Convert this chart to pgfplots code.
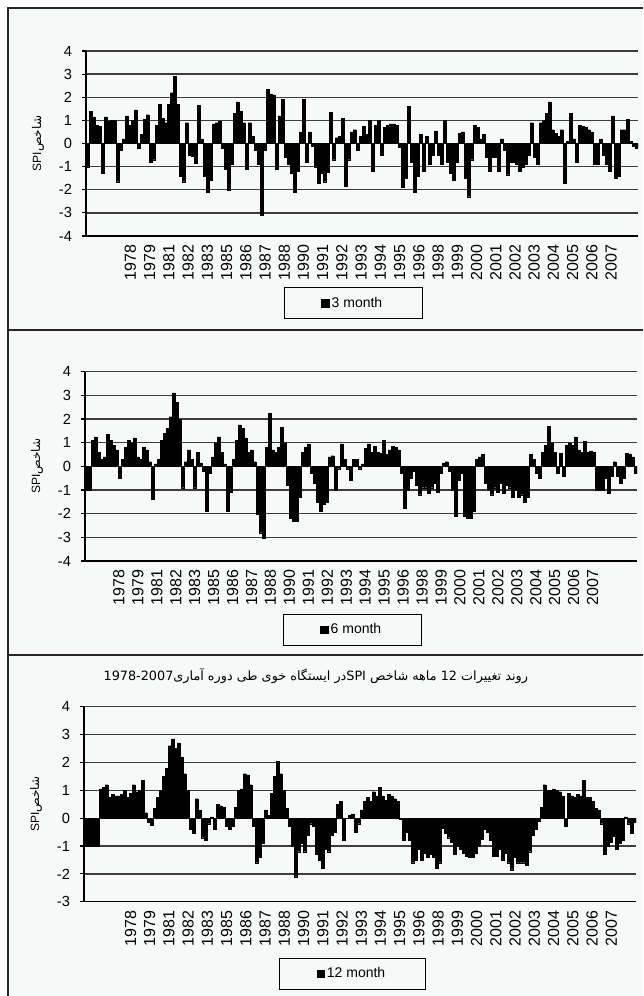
\documentclass[border=0pt]{standalone}
\usepackage{pgfplots}
\usepackage{pgfplotstable}
\pgfplotsset{compat=1.18}
\usepackage{fontspec}
\setmainfont{Liberation Sans}
\newfontfamily\arabicfont[Script=Arabic]{DejaVu Sans}
\TeXXeTstate=1
\definecolor{bg}{RGB}{247,249,249}
\definecolor{gridc}{RGB}{60,60,60}

\pgfplotstableread{
y
-1.0
1.4
1.15
0.8
0.75
-1.3
1.15
0.95
1.0
1.0
-1.65
-0.3
0.2
1.2
0.8
1.0
1.45
-0.2
0.4
1.05
1.25
-0.8
-0.7
0.8
1.7
1.1
0.9
1.7
2.2
2.9
1.7
-1.4
-1.65
0.9
-0.5
-0.55
-0.85
1.65
0.2
-1.4
-2.1
-1.6
0.85
0.9
0.95
-0.2
-1.1
-2.0
-0.9
1.3
1.8
1.4
0.9
-1.1
0.9
0.3
-0.3
-0.9
-3.1
-0.3
2.35
2.15
2.1
-1.1
1.2
1.9
-0.6
-0.9
-1.3
-2.1
-1.2
0.5
1.9
-0.8
0.5
-0.1
-1.0
-1.7
-1.3
-1.65
-1.25
1.35
-0.7
0.25
0.3
1.1
-1.85
-0.7
0.5
0.6
-0.3
0.3
0.75
0.4
1.0
-1.2
0.8
1.0
-0.5
0.7
0.8
0.85
0.85
0.8
-0.15
-1.9
-1.5
1.6
-0.8
-2.1
-1.4
0.4
-1.2
0.3
-0.9
-0.5
0.55
-0.5
-0.9
1.0
-0.8
-1.3
-1.6
-0.8
0.45
0.5
-1.5
-2.3
-0.7
0.8
0.7
0.2
0.4
-0.6
-1.2
-0.6
-0.6
-1.2
0.2
-0.3
-1.35
-0.8
-0.8
-0.9
-1.2
-1.0
-0.9
-0.5
0.9
-0.6
-0.9
0.9
1.0
1.3
1.8
0.6
0.45
0.3
0.6
-1.7
0.1
1.3
0.2
-0.8
0.8
0.75
0.7
0.6
0.5
-0.9
-0.9
0.2
-0.5
-0.9
-1.2
1.2
-1.5
-1.4
0.6
0.6
1.05
0.1
-0.1
-0.2
}\spithree

\pgfplotstableread{
y
-1.0
-1.0
1.1
1.25
0.6
0.3
0.4
1.35
1.1
0.9
0.7
-0.5
0.3
0.8
1.1
1.0
1.2
0.4
0.3
0.8
0.7
0.2
-1.4
0.1
0.3
1.1
1.4
1.6
2.1
3.1
2.7
2.0
-0.9
0.2
0.7
0.3
-0.9
0.6
0.15
-0.2
-1.9
-0.3
0.4
1.0
1.25
0.6
0.1
-1.9
-1.1
0.3
1.1
1.75
1.6
1.2
0.6
0.7
0.2
-2.0
-2.8
-3.05
0.8
2.25
0.7
0.6
0.8
1.65
1.0
-0.8
-2.2
-2.3
-2.3
-1.3
0.6
0.8
0.95
-0.3
-0.7
-1.5
-1.9
-1.6
-1.5
0.4
0.45
-1.0
-0.1
0.95
0.3
-0.1
-0.6
0.3
0.3
-0.1
0.1
0.75
0.95
0.6
0.85
0.6
0.55
1.1
0.5
0.7
0.85
0.8
0.7
-0.3
-1.75
-1.0
-0.5
-0.2
-0.8
-1.2
-0.9
-0.9
-1.15
-0.9
-0.7
-1.1
-0.3
0.15
0.2
-0.2
-1.0
-2.1
-0.6
-0.3
-2.1
-2.2
-2.2
-1.9
0.3
0.4
0.5
-0.7
-1.0
-1.2
-0.9
-1.1
-0.7
-1.15
-0.8
-0.9
-1.3
-1.0
-1.3
-1.2
-1.5
-1.3
0.5
0.3
-0.3
-0.5
0.6
0.9
1.7
1.0
0.6
-0.3
0.55
-0.4
0.9
1.0
0.9
1.25
0.7
0.6
1.05
0.6
0.65
0.6
-1.0
-1.0
-1.0
-0.5
-1.15
-0.4
0.2
-0.4
-0.7
-0.5
0.55
0.5
0.4
-0.3
}\spisix

\pgfplotstableread{
y
-1.0
-1.0
-1.0
-1.0
-1.0
1.05
1.1
1.2
0.75
0.85
0.8
0.8
0.85
1.0
0.75
0.9
1.2
0.95
1.0
1.35
0.2
-0.15
-0.25
0.35
0.75
1.0
1.5
1.8
2.6
2.85
2.5
2.7
2.2
1.6
1.0
-0.4
-0.55
0.7
0.3
-0.7
-0.8
-0.2
0.05
-0.4
0.5
0.45
0.4
-0.3
-0.4
-0.3
0.4
1.0
1.05
1.6
1.55
1.2
-0.3
-1.6
-1.4
-0.9
0.3
0.1
0.9
1.5
2.05
1.6
1.0
0.35
-0.3
-1.0
-2.1
-1.2
-0.9
-1.2
-0.6
-0.2
-0.3
-1.3
-1.5
-1.8
-1.1
-1.2
-0.6
-0.5
0.5
0.6
-0.8
0.0
0.1
0.15
-0.5
-0.2
0.3
0.6
0.75
0.6
0.95
0.8
1.1
0.8
0.65
0.85
0.8
0.7
0.6
-0.05
-0.8
-0.5
-0.8
-1.6
-1.5
-1.1
-1.5
-1.25
-1.4
-1.3
-1.4
-1.8
-1.6
-0.35
-0.55
-0.7
-0.85
-1.3
-1.0
-1.1
-1.25
-1.35
-1.4
-1.4
-1.25
-1.0
-0.75
-0.4
-0.5
-0.8
-1.35
-1.35
-1.1
-1.5
-1.25
-1.6
-1.85
-1.4
-1.6
-1.6
-1.6
-1.7
-1.2
-0.6
-0.4
-0.1
0.4
1.2
1.0
1.0
1.05
1.0
0.95
0.8
-0.3
0.9
0.8
0.75
0.85
0.8
1.35
0.75
0.75
0.6
0.35
0.3
-0.2
-1.3
-1.0
-0.85
-0.65
-1.1
-0.9
-0.8
0.05
-0.2
-0.55
-0.15
}\spitwelve

\pgfplotsset{
  spipanel/.style={
    scale only axis, width=414pt,
    xmin=-0.5, xmax=183.5,
    axis x line*=bottom, axis y line*=left,
    axis line style={line width=1pt, black},
    ymajorgrids, grid style={gridc, line width=1pt},
    ytick distance=1,
    tick align=outside, major tick length=3pt,
    ytick style={black, line width=0.8pt},
    xtick style={draw=none},
    /pgf/number format/assume math mode=true,
    yticklabel style={font=\fontsize{11}{11}\selectfont, xshift=-4pt},
    xticklabel style={rotate=90, anchor=east, font=\fontsize{12}{12}\selectfont},
    xticklabels={1978,1979,1981,1982,1983,1985,1986,1987,1988,1990,1991,1992,1993,1994,1995,1996,1998,1999,2000,2001,2002,2003,2004,2005,2006,2007},
    ybar, bar width=1,
    ylabel={SPI{\arabicfont\beginR شاخص\endR}},
    every axis y label/.style={at={(axis description cs:-0.087,0.5)}, rotate=90, anchor=center, font=\fontsize{9}{9}\selectfont},
    legend style={anchor=center, draw=black, line width=0.6pt, fill=bg,
      inner xsep=28pt, inner ysep=5pt, font=\fontsize{10.5}{12}\selectfont},
  },
  spibars/.style={fill=black, draw=black, line width=0.15pt,
    legend image code/.code={\fill[black] (0pt,-2.8pt) rectangle (5.6pt,2.8pt);}},
}

\begin{document}
\begin{tikzpicture}
\path[use as bounding box, fill=white] (0pt,0pt) rectangle (482.25pt,-747pt);
\fill[bg] (6pt,-6pt) rectangle (482.25pt,-747pt);
\draw[line width=1.1pt, black!85] (482.25pt,-6pt) -- (6pt,-6pt) -- (6pt,-747pt);
\draw[line width=1.1pt, black!85] (6pt,-247.5pt) -- (482.25pt,-247.5pt);
\draw[line width=1.3pt, black!85] (6pt,-491.25pt) -- (482.25pt,-491.25pt);

\begin{axis}[spipanel, at={(64.5pt,-177pt)}, anchor=south west,
  height=138.75pt, ymin=-4, ymax=4,
  xtick={14.3,20.71,...,175},
  legend style={at={(0.484,-0.362)}}]
\addplot[spibars] table[x expr=\coordindex, y=y]{\spithree};
\addlegendentry{3 month}
\end{axis}

\begin{axis}[spipanel, at={(63.75pt,-420.75pt)}, anchor=south west,
  height=142pt, ymin=-4, ymax=4,
  xtick={10.8,17.116,...,169},
  legend style={at={(0.484,-0.362)}}]
\addplot[spibars] table[x expr=\coordindex, y=y]{\spisix};
\addlegendentry{6 month}
\end{axis}

\begin{axis}[spipanel, at={(63pt,-676.3pt)}, anchor=south west,
  height=146.25pt, ymin=-3, ymax=4,
  xtick={15,21.41,...,176},
  legend style={at={(0.486,-0.368)}},
  title={\arabicfont\beginR روند تغییرات \beginL 12\endL{} ماهه شاخص \beginL SPI\endL{}در ایستگاه خوی طی دوره آماری\beginL 1978-2007\endL\endR},
  title style={at={(axis description cs:0.42,1.116)}, anchor=center, font=\fontsize{9.6}{10}\selectfont}]
\addplot[spibars] table[x expr=\coordindex, y=y]{\spitwelve};
\addlegendentry{12 month}
\end{axis}
\end{tikzpicture}
\end{document}
